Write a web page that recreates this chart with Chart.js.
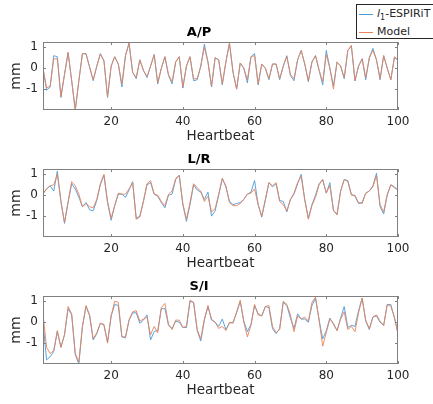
<!DOCTYPE html>
<html>
<head>
<meta charset="utf-8">
<script src="https://cdn.jsdelivr.net/npm/chart.js@4/dist/chart.umd.min.js"></script>
<style>
    body { margin: 0; width: 433px; height: 404px; overflow: hidden; background: #fff; position: relative; font-family: "DejaVu Sans", sans-serif; }
    canvas { position: absolute; left: 0; }
    #legend { position: absolute; left: 356px; top: 4px; width: 100px; height: 35px; border: 1px solid #262626; background: #fff; z-index: 5; box-sizing: border-box; font-size: 11px; color: #262626; }
    #legend .row { position: absolute; left: 0; height: 16px; line-height: 16px; white-space: nowrap; }
    #legend .swatch { position: absolute; left: 2px; top: 8px; width: 14px; height: 1px; }
    #legend .label { position: absolute; left: 20px; top: 0; }
    #legend sub { font-size: 8px; }
</style>
</head>
<body>
<div id="legend">
    <div class="row" style="top:1px"><span class="swatch" style="background:#4A9BDA"></span><span class="label"><i>l</i><sub>1</sub>-ESPIRiT</span></div>
    <div class="row" style="top:19px"><span class="swatch" style="background:#E8825A"></span><span class="label">Model</span></div>
</div>
<canvas id="apChart" width="433" height="145" style="top:0px"></canvas>
<canvas id="lrChart" width="433" height="145" style="top:127px"></canvas>
<canvas id="siChart" width="433" height="145" style="top:254px"></canvas>
<script>
const xTicks = [20, 40, 60, 80, 100];
const yTicks = [-1, 0, 1];
const seriesNames = ["l1-ESPIRiT", "Model"];

const apEspirit = [0.0, -1.05, -0.9, 0.6, 0.55, -1.4, -0.3, 0.75, -0.6, -2.0,
    -0.6, 0.7, 0.7, 0.05, -0.6, 0.1, 0.7, 0.35, -1.4, 0.1,
    0.55, 0.2, -0.9, 0.6, 1.2, -0.2, -0.5, 0.4, -0.1, -0.45,
    0.1, 0.65, -0.75, 0.0, 0.55, -0.35, -0.75, 0.3, 0.55, -0.95,
    0.1, 0.55, -0.6, -0.55, 0.1, 1.15, 0.3, -0.9, 0.5, 0.4,
    -0.8, 0.3, 1.2, -0.2, -1.0, 0.25, 0.0, -0.7, 0.55, 0.7,
    -0.8, 0.2, 0.0, -0.55, 0.2, 0.2, -0.55, 0.1, 0.6, -0.35,
    -0.6, 0.4, 0.85, 0.2, -0.65, 0.3, 0.6, -0.1, -0.8, 0.85,
    0.0, -0.85, 0.3, 0.1, -0.5, 0.85, 1.05, -0.6, 0.1, 0.45,
    -0.55, 0.5, 0.95, 0.4, -0.55, 0.6, 0.0, -0.55, 0.5, 0.4];
const apModel = [0.0, -0.95, -0.85, 0.45, 0.45, -1.35, -0.3, 0.75, -0.6, -2.0,
    -0.6, 0.7, 0.68, 0.05, -0.55, 0.1, 0.68, 0.35, -1.35, 0.1,
    0.55, 0.2, -0.75, 0.6, 1.2, -0.2, -0.45, 0.4, -0.1, -0.4,
    0.1, 0.65, -0.7, 0.0, 0.55, -0.3, -0.65, 0.3, 0.55, -0.9,
    0.1, 0.55, -0.5, -0.5, 0.1, 1.0, 0.3, -0.85, 0.5, 0.4,
    -0.75, 0.3, 1.2, -0.2, -1.0, 0.25, 0.0, -0.55, 0.55, 0.6,
    -0.75, 0.2, 0.0, -0.5, 0.2, 0.2, -0.5, 0.1, 0.55, -0.3,
    -0.5, 0.4, 0.85, 0.2, -0.6, 0.3, 0.6, -0.1, -0.65, 0.65,
    0.0, -1.0, 0.3, 0.1, -0.45, 0.85, 1.1, -0.6, 0.1, 0.45,
    -0.45, 0.5, 0.85, 0.4, -0.5, 0.6, 0.0, -0.55, 0.55, 0.4];

const lrEspirit = [0.1, 0.3, 0.45, 0.2, 1.15, -0.3, -1.35, -0.35, 0.55, 0.3,
    -0.1, -0.55, -0.35, -0.7, -0.75, -0.25, 0.5, 0.95, -0.35, -1.2,
    -0.5, 0.05, 0.05, -0.1, 0.25, 0.65, -1.1, -1.0, -0.3, 0.5,
    0.6, 0.05, -0.05, -0.35, -0.6, 0.0, 0.05, 0.75, 0.95, -0.45,
    -1.25, -0.45, 0.5, 0.25, 0.15, -0.2, 0.15, -1.0, -0.75, 0.0,
    0.8, 0.4, -0.3, -0.45, -0.4, -0.35, -0.2, 0.05, 0.15, 0.7,
    -0.45, -1.05, -0.25, 0.6, 0.4, 0.55, -0.25, -0.3, -0.8, -0.2,
    0.05, 0.55, 1.0, -0.2, -1.1, -0.45, 0.0, 0.55, 0.75, 0.1,
    0.6, -0.75, -0.9, 0.2, 0.75, 0.7, 0.05, -0.05, -0.4, -0.35,
    0.1, 0.2, 0.45, 1.05, -0.55, -0.9, 0.0, 0.5, 0.4, 0.25];
const lrModel = [0.05, 0.3, 0.45, 0.5, 1.0, -0.3, -1.3, -0.3, 0.65, 0.45,
    0.05, -0.55, -0.4, -0.55, -0.6, -0.2, 0.55, 1.0, -0.3, -1.1,
    -0.5, 0.1, 0.05, 0.05, 0.3, 0.6, -1.15, -1.05, -0.3, 0.55,
    0.7, 0.05, 0.0, -0.3, -0.5, 0.05, 0.2, 0.8, 0.95, -0.4,
    -1.15, -0.35, 0.55, 0.35, 0.2, -0.3, -0.05, -0.8, -0.65, 0.05,
    0.8, 0.45, -0.35, -0.5, -0.5, -0.4, -0.2, 0.05, 0.1, 0.3,
    -0.45, -1.0, -0.2, 0.6, 0.45, 0.6, -0.3, -0.45, -0.75, -0.2,
    0.1, 0.6, 0.9, -0.25, -1.15, -0.5, -0.1, 0.5, 0.75, 0.1,
    0.45, -0.7, -0.95, 0.2, 0.75, 0.65, 0.0, 0.0, -0.35, -0.4,
    0.1, 0.2, 0.4, 0.95, -0.45, -0.8, 0.05, 0.5, 0.35, 0.25];

const siEspirit = [0.0, -1.8, -1.65, -1.4, -0.45, -1.2, -0.6, 0.65, 0.35, -1.55,
    -2.0, -0.2, 0.75, 0.3, -0.85, -0.55, -0.05, -0.15, -0.95, 0.3,
    0.85, 0.8, -0.7, -0.75, 0.1, 0.45, 0.45, -0.05, 0.1, 0.35,
    -0.85, -0.45, -0.4, 0.65, 0.65, -0.15, -0.3, 0.05, 0.0, -0.25,
    -0.25, 1.0, 0.95, -0.4, -0.9, 0.1, 0.75, 0.1, 0.0, -0.2,
    0.15, -0.35, -0.05, 0.0, 0.45, 1.0, 0.05, -0.45, -0.1, 0.8,
    0.4, 0.3, 0.75, 0.7, -0.3, -0.55, -0.3, 0.95, 0.8, 0.2,
    -0.3, 0.4, 0.15, 0.15, 0.0, 0.8, 1.15, 0.1, -0.8, -0.4,
    0.2, -0.1, -0.4, 0.2, 0.75, -0.25, -0.15, -0.2, 0.55, 1.15,
    0.05, -0.35, 0.25, 0.3, 0.0, -0.15, 0.85, 0.85, 0.2, -0.5];
const siModel = [0.4, -1.2, -1.5, -1.35, -0.4, -1.2, -0.6, 0.75, 0.4, -1.5,
    -1.9, -0.2, 0.8, 0.35, -0.8, -0.5, -0.05, -0.1, -1.0, 0.3,
    1.0, 0.95, -0.7, -0.7, 0.1, 0.5, 0.55, 0.05, 0.15, 0.25,
    -0.6, -0.2, -0.5, 0.7, 0.9, -0.1, -0.35, 0.1, 0.1, -0.25,
    -0.2, 1.05, 0.95, -0.35, -0.8, 0.15, 0.8, 0.15, 0.0, -0.3,
    -0.2, -0.4, 0.0, -0.05, 0.5, 1.05, 0.0, -0.7, -0.15, 0.85,
    0.35, 0.3, 0.75, 0.8, -0.2, -0.5, -0.35, 1.0, 0.85, 0.35,
    -0.45, 0.3, 0.15, 0.25, 0.05, 0.95, 1.2, 0.1, -1.15, -0.5,
    0.15, -0.05, -0.4, 0.15, 0.5, -0.35, -0.2, -0.45, 0.45, 1.15,
    0.1, -0.3, 0.25, 0.35, 0.05, -0.15, 0.85, 0.75, 0.25, -0.6];

const textColor = "#262626";

// frame around the plot area with small inward ticks, like the matlab axes box
const framePlugin = {
    id: "frame",
    afterDatasetsDraw(chart) {
        const { ctx, chartArea: a, scales } = chart;
        ctx.save();
        ctx.strokeStyle = "#808080";
        ctx.lineWidth = 1;
        ctx.strokeRect(Math.round(a.left) + 0.5, Math.round(a.top) + 0.5,
            Math.round(a.width) - 1, Math.round(a.height) - 1);
        ctx.beginPath();
        xTicks.forEach(v => {
            const px = Math.round(scales.x.getPixelForValue(v)) + 0.5;
            ctx.moveTo(px, a.bottom); ctx.lineTo(px, a.bottom - 3);
            ctx.moveTo(px, a.top); ctx.lineTo(px, a.top + 3);
        });
        yTicks.forEach(v => {
            const py = Math.round(scales.y.getPixelForValue(v)) + 0.5;
            ctx.moveTo(a.left, py); ctx.lineTo(a.left + 3, py);
            ctx.moveTo(a.right, py); ctx.lineTo(a.right - 3, py);
        });
        ctx.stroke();
        ctx.restore();
    }
};

function toPoints(values) {
    return values.map((v, i) => ({ x: i + 1, y: v }));
}

function makePanel(id, title, espirit, model) {
    const ctx = document.getElementById(id).getContext("2d");
    return new Chart(ctx, {
        type: "line",
        data: {
            datasets: [
                // model is plotted second in the original, so it sits on top
                { label: seriesNames[0], data: toPoints(espirit), borderColor: "#4A9BDA", borderWidth: 0.9, pointRadius: 0, tension: 0, order: 1 },
                { label: seriesNames[1], data: toPoints(model), borderColor: "#E8825A", borderWidth: 0.9, pointRadius: 0, tension: 0, order: 0 }
            ]
        },
        options: {
            responsive: false,
            animation: false,
            events: [],
            layout: { padding: { left: 0, right: 35, top: 0, bottom: 0 } },
            plugins: {
                legend: { display: false },
                tooltip: { enabled: false },
                title: {
                    display: true,
                    text: title,
                    color: "#000",
                    font: { family: "DejaVu Sans", size: 13, weight: "bold" },
                    padding: { top: 25, bottom: 1.5 }
                }
            },
            scales: {
                x: {
                    type: "linear",
                    min: 1,
                    max: 100,
                    grid: { display: false, drawTicks: false },
                    border: { display: false },
                    afterBuildTicks: s => { s.ticks = xTicks.map(v => ({ value: v })); },
                    afterFit: s => { s.height = 35; },
                    ticks: { color: textColor, font: { family: "DejaVu Sans", size: 12 }, padding: 5, maxRotation: 0 },
                    title: { display: true, text: "Heartbeat", color: textColor, font: { family: "DejaVu Sans", size: 13.5 }, padding: 0 }
                },
                y: {
                    min: -2,
                    max: 1.25,
                    grid: { display: false, drawTicks: false },
                    border: { display: false },
                    afterBuildTicks: s => { s.ticks = yTicks.map(v => ({ value: v })); },
                    afterFit: s => { s.width = 43; },
                    ticks: { color: textColor, font: { family: "DejaVu Sans", size: 12 }, padding: 5 },
                    title: { display: true, text: "mm", color: textColor, font: { family: "DejaVu Sans", size: 14 }, padding: { top: 8, bottom: 0 } }
                }
            }
        },
        plugins: [framePlugin]
    });
}

makePanel("apChart", "A/P", apEspirit, apModel);
makePanel("lrChart", "L/R", lrEspirit, lrModel);
makePanel("siChart", "S/I", siEspirit, siModel);
</script>
</body>
</html>
